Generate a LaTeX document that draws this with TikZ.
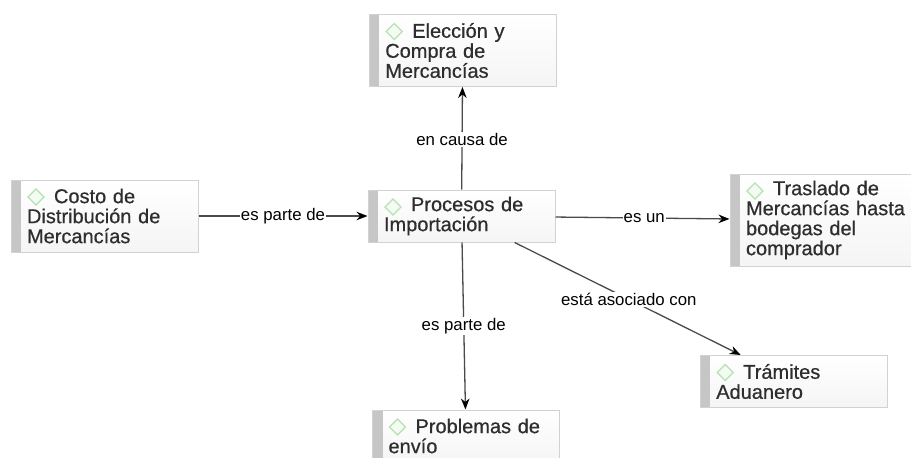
\documentclass[tikz,border=0pt]{standalone}
\usepackage{fontspec}
\setmainfont{Liberation Sans}
\newfontfamily\conceptfont{Liberation Sans}[FakeBold=0.6]
\usetikzlibrary{arrows.meta}
\definecolor{edgeC}{HTML}{D2D2D2}
\definecolor{bandC}{HTML}{C6C6C6}
\definecolor{txtC}{HTML}{2E2E2E}
\definecolor{lineC}{HTML}{4A4A4A}
\definecolor{diaC}{HTML}{B4E2B0}
\definecolor{diaF}{HTML}{F4FBF3}
\tikzset{
  concept/.style={rectangle,draw=edgeC,line width=1pt,top color=white,bottom color=black!4,
    minimum width=187pt,text width=155pt,inner xsep=0pt,inner ysep=0pt,
    align=left,text=txtC,font=\conceptfont\fontsize{20}{20}\selectfont,
    path picture={
      \fill[bandC] (path picture bounding box.north west) rectangle ([xshift=10pt]path picture bounding box.south west);
      \draw[diaC,fill=diaF,line width=1.2pt]
        ([xshift=25pt,yshift=-9pt]path picture bounding box.north west) --
        ([xshift=33pt,yshift=-17pt]path picture bounding box.north west) --
        ([xshift=25pt,yshift=-25pt]path picture bounding box.north west) --
        ([xshift=17pt,yshift=-17pt]path picture bounding box.north west) -- cycle;
    }},
  h2/.style={minimum height=52pt},
  h3/.style={minimum height=72pt},
  h4/.style={minimum height=92pt},
  rel/.style={draw=lineC,line width=1.3pt,-{Stealth[length=11pt,width=8.5pt,color=black,fill=black]}},
  rellabel/.style={fill=white,text=black,inner xsep=1pt,inner ysep=1.5pt,font=\fontsize{16.8}{18}\selectfont},
}
\newcommand{\ind}{\hspace*{27pt}}
\begin{document}
\begin{tikzpicture}[x=1pt,y=-1pt]
\clip (0,0) rectangle (911,458);
\node[concept,h3] (eleccion) at (462.75,50.5) {\ind Elección y\\Compra de\\Mercancías};
\node[concept,h3] (costo) at (104.5,216) {\ind Costo de\\Distribución de\\Mercancías};
\node[concept,h2] (proc) at (461.5,216) {\ind Procesos de\\Importación};
\node[concept,h4] (traslado) at (823.5,220) {\ind Traslado de\\\mbox{Mercancías hasta}\\bodegas del\\comprador};
\node[concept,h2] (tramites) at (793.75,381.5) {\ind Trámites\\Aduanero};
\node[concept,h2] (problemas) at (466,436) {\ind Problemas de\\envío};
\draw[rel] (proc) -- node[rellabel,pos=.485] (l1) {en causa de} (eleccion);
\draw[rel] (costo) -- node[rellabel,pos=.5] (l2) {es parte de} (proc);
\draw[rel] (proc) -- node[rellabel,pos=.5] (l3) {es parte de} (problemas);
\draw[rel] (proc) -- node[rellabel,pos=.51] (l4) {es un} (traslado);
\draw[rel] (proc) -- node[rellabel,pos=.505] (l5) {está asociado con} (tramites);
\end{tikzpicture}
\end{document}
